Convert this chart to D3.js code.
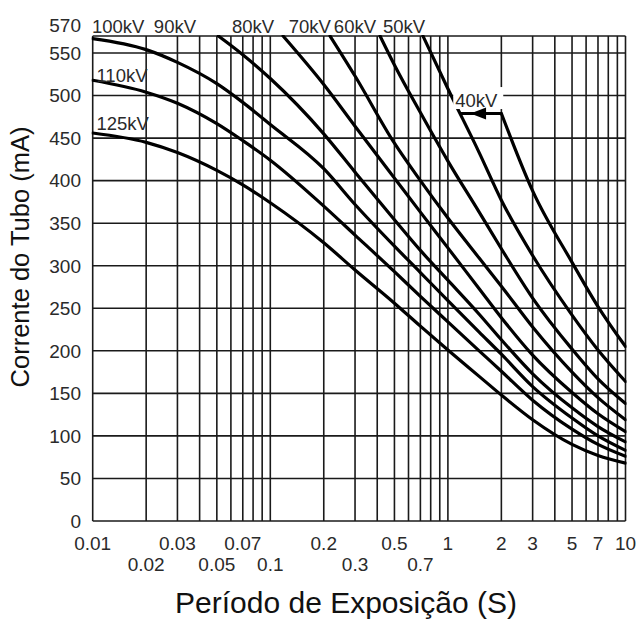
<!DOCTYPE html>
<html>
<head>
<meta charset="utf-8">
<script src="https://cdn.jsdelivr.net/npm/d3@7"></script>
<style>
  html, body { margin: 0; padding: 0; background: #fff; }
  svg { display: block; }
</style>
</head>
<body>
<svg id="chart" width="641" height="620"></svg>
<script>
// ---------------- data ----------------
const kvNames = ["125kV", "110kV", "100kV", "90kV", "80kV", "70kV", "60kV", "50kV", "40kV"];

const kv125T  = [0.01, 0.02, 0.03, 0.05, 0.07, 0.1, 0.2, 0.3, 0.5, 0.7, 1, 1.5, 2, 3, 5, 7, 10];
const kv125mA = [456, 445, 433, 412, 395, 374, 327, 295, 256, 229, 201, 170, 148, 119, 90, 77, 68];

const kv110T  = [0.01, 0.02, 0.03, 0.05, 0.07, 0.1, 0.2, 0.3, 0.5, 0.7, 1, 1.5, 2, 3, 5, 7, 10];
const kv110mA = [518, 504, 491, 467, 447, 424, 370, 336, 293, 264, 234, 200, 176, 142, 108, 90, 76];

const kv100T  = [0.01, 0.02, 0.03, 0.05, 0.07, 0.1, 0.2, 0.3, 0.5, 0.7, 1, 1.5, 2, 3, 5, 7, 10];
const kv100mA = [567, 554, 539, 514, 492, 466, 414, 372, 323, 292, 259, 222, 196, 158, 121, 100, 83];

const kv90T   = [0.051, 0.07, 0.1, 0.2, 0.3, 0.5, 0.7, 1, 1.5, 2, 3, 5, 7, 10];
const kv90mA  = [570, 548, 520, 455, 410, 354, 318, 283, 243, 213, 173, 133, 111, 93];

const kv80T   = [0.118, 0.2, 0.3, 0.5, 0.7, 1, 1.5, 2, 3, 5, 7, 10];
const kv80mA  = [570, 513, 464, 403, 363, 321, 273, 239, 195, 151, 126, 105];

const kv70T   = [0.217, 0.3, 0.5, 0.7, 1, 1.5, 2, 3, 5, 7, 10];
const kv70mA  = [570, 523, 444, 400, 356, 309, 276, 228, 175, 145, 119];

const kv60T   = [0.415, 0.5, 0.7, 1, 1.5, 2, 3, 5, 7, 10];
const kv60mA  = [570, 536, 480, 423, 363, 320, 262, 202, 167, 138];

const kv50T   = [0.724, 1, 1.5, 2, 3, 5, 7, 10];
const kv50mA  = [570, 508, 433, 377, 312, 242, 201, 164];

const kv40T   = [2, 3, 5, 7, 10];
const kv40mA  = [479, 388, 304, 252, 205];

// curve label anchors (data space)
const labelText = ["100kV", "90kV", "80kV", "70kV", "60kV", "50kV", "110kV", "125kV"];
const labelT    = [0.0099, 0.0221, 0.0609, 0.127, 0.228, 0.431, 0.0105, 0.0105];
const labelMA   = [574, 574, 574, 574, 574, 574, 516, 459.5];

// 40kV limit annotation
const note40Text = "40kV";
const note40T = 1.10;
const note40MA = 486.5;
const arrowT = [1.17, 2];
const arrowMA = 479;
const arrowHeadT = [1.34, 1.64];

// axes
const xTicksTop    = [0.01, 0.03, 0.07, 0.2, 0.5, 1, 2, 3, 5, 7, 10];
const xTickLabelsTop = ["0.01", "0.03", "0.07", "0.2", "0.5", "1", "2", "3", "5", "7", "10"];
const xTicksBottom = [0.02, 0.05, 0.1, 0.3, 0.7];
const xTickLabelsBottom = ["0.02", "0.05", "0.1", "0.3", "0.7"];
const xGrid = [0.01,0.02,0.03,0.04,0.05,0.06,0.07,0.08,0.09,
               0.1,0.2,0.3,0.4,0.5,0.6,0.7,0.8,0.9,
               1,2,3,4,5,6,7,8,9,10];
const yTicks = [0, 50, 100, 150, 200, 250, 300, 350, 400, 450, 500, 550, 570];

const xTitle = "Período de Exposição (S)";
const yTitle = "Corrente do Tubo (mA)";

// ---------------- drawing ----------------
const svg = d3.select("#chart");
const L = 92.7, R = 625.5, T = 36, B = 521;

const x = d3.scaleLog().domain([0.01, 10]).range([L, R]);
const y = d3.scaleLinear().domain([0, 570]).range([B, T]);

svg.append("rect").attr("width", 641).attr("height", 620).attr("fill", "#fff");

const defs = svg.append("defs");
defs.append("clipPath").attr("id", "plotclip")
  .append("rect").attr("x", L - 1).attr("y", T - 1).attr("width", R - L + 2).attr("height", B - T + 2);

const tickFont = "'Liberation Sans', Arial, sans-serif";
const textCol = "#2a2a2a";

// grid
const grid = svg.append("g").attr("stroke", "#1a1a1a").attr("stroke-width", 1.6);
grid.selectAll("line.v").data(xGrid).join("line")
  .attr("x1", d => x(d)).attr("x2", d => x(d))
  .attr("y1", y(570)).attr("y2", y(0));
grid.selectAll("line.h").data(yTicks).join("line")
  .attr("x1", x(0.01)).attr("x2", x(10))
  .attr("y1", d => y(d)).attr("y2", d => y(d));

// y tick labels
svg.append("g").selectAll("text").data(yTicks).join("text")
  .attr("x", 81)
  .attr("y", d => y(d) + (d === 570 ? -11 : 0))
  .attr("dy", "0.36em")
  .attr("text-anchor", "end")
  .attr("font-family", tickFont).attr("font-size", 19)
  .attr("fill", textCol)
  .text(d => d);

// x tick labels
svg.append("g").selectAll("text").data(xTicksTop).join("text")
  .attr("x", d => x(d)).attr("y", 550)
  .attr("text-anchor", "middle")
  .attr("font-family", tickFont).attr("font-size", 19).attr("fill", textCol)
  .text((d, i) => xTickLabelsTop[i]);
svg.append("g").selectAll("text").data(xTicksBottom).join("text")
  .attr("x", d => x(d)).attr("y", 571)
  .attr("text-anchor", "middle")
  .attr("font-family", tickFont).attr("font-size", 19).attr("fill", textCol)
  .text((d, i) => xTickLabelsBottom[i]);

// curves
const series = [
  [kv125T, kv125mA], [kv110T, kv110mA], [kv100T, kv100mA], [kv90T, kv90mA],
  [kv80T, kv80mA], [kv70T, kv70mA], [kv60T, kv60mA], [kv50T, kv50mA], [kv40T, kv40mA]
].map((s, i) => ({ name: kvNames[i], pts: s[0].map((t, j) => ({ t: t, v: s[1][j] })) }));

const line = d3.line().x(d => x(d.t)).y(d => y(d.v)).curve(d3.curveMonotoneX);
svg.append("g").attr("clip-path", "url(#plotclip)")
  .selectAll("path").data(series).join("path")
  .attr("d", d => line(d.pts))
  .attr("fill", "none").attr("stroke", "#000").attr("stroke-width", 3.2)
  .attr("stroke-linejoin", "round").attr("stroke-linecap", "round");

// curve labels
svg.append("g").selectAll("text").data(labelText).join("text")
  .attr("x", (d, i) => x(labelT[i])).attr("y", (d, i) => y(labelMA[i]))
  .attr("font-family", tickFont).attr("font-size", 18.5).attr("fill", textCol)
  .text(d => d);

// 40kV note with white background
const nx = x(note40T), ny = y(note40MA);
svg.append("rect").attr("x", nx - 2).attr("y", ny - 20).attr("width", 50).attr("height", 22).attr("fill", "#fff");
svg.append("text").attr("x", nx).attr("y", ny)
  .attr("font-family", tickFont).attr("font-size", 18.5).attr("fill", textCol)
  .text(note40Text);

// arrow
svg.append("line")
  .attr("x1", x(arrowT[0])).attr("x2", x(arrowT[1]))
  .attr("y1", y(arrowMA)).attr("y2", y(arrowMA))
  .attr("stroke", "#000").attr("stroke-width", 3);
const ax0 = x(arrowHeadT[0]), ax1 = x(arrowHeadT[1]), ay = y(arrowMA);
svg.append("path")
  .attr("d", `M${ax0},${ay} L${ax1},${ay - 6} L${ax1},${ay + 6} Z`)
  .attr("fill", "#000");

// titles
svg.append("text")
  .attr("x", 346).attr("y", 613)
  .attr("text-anchor", "middle")
  .attr("font-family", "'Liberation Sans', Arial, sans-serif").attr("font-size", 30)
  .attr("fill", "#111")
  .text(xTitle);
svg.append("text")
  .attr("transform", "translate(29,257) rotate(-90)")
  .attr("text-anchor", "middle")
  .attr("font-family", "'Liberation Sans', Arial, sans-serif").attr("font-size", 25.5)
  .attr("fill", "#111")
  .text(yTitle);
</script>
</body>
</html>
